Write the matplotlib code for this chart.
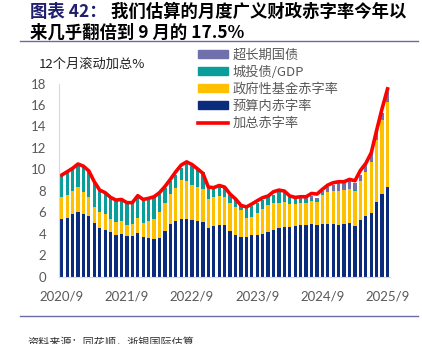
import matplotlib
matplotlib.use("Agg")
import matplotlib.pyplot as plt
from matplotlib.patches import Patch
from matplotlib.lines import Line2D

plt.rcParams['font.family'] = ['Noto Sans CJK SC', 'DejaVu Sans']

# 2020/9 ... 2025/9，共61个月
months = [f"{2020 + (8 + i) // 12}/{(8 + i) % 12 + 1}" for i in range(61)]
tick_labels = ["2020/9", "2021/9", "2022/9", "2023/9", "2024/9", "2025/9"]

# 预算内赤字率
budget = [5.37, 5.5, 5.8, 6.05, 5.85, 5.7, 5.0, 4.55, 4.35, 4.2,
          3.9, 4.0, 3.8, 3.8, 4.05, 3.7, 3.6, 3.5, 3.6, 4.3,
          4.9, 5.2, 5.4, 5.4, 5.3, 5.2, 5.1, 4.57, 4.72, 4.82,
          4.82, 4.25, 3.9, 3.73, 3.7, 3.85, 3.88, 4.0, 4.13, 4.35,
          4.5, 4.66, 4.6, 4.72, 4.81, 4.81, 4.9, 4.81, 4.9, 4.9,
          4.9, 4.81, 4.9, 5.05, 4.73, 5.28, 5.65, 5.96, 6.99, 7.7, 8.39]
# 政府性基金赤字率
fund = [2.03, 2.1, 2.2, 2.35, 2.05, 1.7, 1.5, 1.45, 1.45, 1.2,
        1.2, 1.2, 1.0, 1.15, 1.45, 1.3, 1.6, 1.9, 2.4, 2.55,
        2.8, 3.1, 3.6, 3.55, 3.25, 3.15, 3.05, 2.68, 2.73, 2.73,
        2.63, 2.6, 2.55, 2.52, 1.8, 1.75, 2.08, 2.27, 2.55, 2.48,
        2.33, 2.33, 2.17, 2.05, 2.02, 2.09, 2.18, 2.18, 2.7, 2.95,
        3.05, 3.14, 3.15, 3.1, 3.27, 3.62, 4.13, 4.74, 5.74, 6.9, 7.91]
# 城投债/GDP
lgfv = [2.05, 2.2, 2.1, 2.15, 2.4, 2.45, 2.3, 2.1, 2.0, 2.05,
        2.1, 2.05, 2.1, 1.95, 2.0, 2.2, 2.05, 2.0, 1.75, 1.45,
        1.2, 1.2, 1.15, 1.65, 1.75, 1.65, 1.65, 1.05, 0.75, 0.85,
        0.8, 0.75, 0.75, 0.45, 0.95, 1.0, 0.87, 0.87, 0.77, 0.77,
        1.09, 0.93, 0.68, 0.59, 0.4, 0.3, 0.2, 0.12, 0.08, 0.05,
        0.04, 0.04, 0.04, 0.04, 0.04, 0.04, 0.04, 0.04, 0.04, 0.04, 0.04]
# 超长期国债
ultra = [0] * 44 + [0.1, 0.2, 0.2, 0.25, 0.3, 0.45, 0.6, 0.7, 0.65, 0.7,
                    0.7, 0.55, 0.55, 0.8, 0.6, 0.6, 0.85]
# 加总赤字率
total = [9.47, 9.78, 10.1, 10.5, 10.3, 9.85, 8.85, 8.07, 7.83, 7.39,
         7.14, 7.2, 6.9, 6.9, 7.55, 7.2, 7.3, 7.45, 7.83, 8.4,
         9.07, 9.78, 10.4, 10.7, 10.45, 10.05, 9.63, 8.35, 8.3, 8.5,
         8.35, 7.7, 7.25, 6.65, 6.5, 6.77, 7.08, 7.36, 7.52, 7.92,
         8.07, 7.98, 7.52, 7.39, 7.45, 7.45, 7.76, 7.7, 8.14, 8.54,
         8.76, 8.85, 8.85, 9.07, 8.94, 9.9, 10.56, 11.55, 13.66, 15.68, 17.5]

c_navy = "#0b2c7d"
c_yellow = "#ffc000"
c_teal = "#0a9e9a"
c_purple = "#7070ad"
c_red = "#ff0000"
c_gray = "#595959"

fig = plt.figure(figsize=(4.22, 3.44), dpi=100)
ax = fig.add_axes([0.1398, 0.1956, 0.785, 0.5616])

x = list(range(len(months)))
w = 0.6
b1 = budget
b2 = [a + b for a, b in zip(b1, fund)]
b3 = [a + b for a, b in zip(b2, lgfv)]
ax.bar(x, budget, w, color=c_navy, linewidth=0)
ax.bar(x, fund, w, bottom=b1, color=c_yellow, linewidth=0)
ax.bar(x, lgfv, w, bottom=b2, color=c_teal, linewidth=0)
ax.bar(x, ultra, w, bottom=b3, color=c_purple, linewidth=0)
ax.plot(x, total, color=c_red, linewidth=2.6, solid_joinstyle='round')

ax.set_xlim(-0.5, 60.5)
ax.set_ylim(0, 18)
ax.set_yticks(range(0, 19, 2))
ax.set_xticks([months.index(t) for t in tick_labels])
ax.set_xticklabels(tick_labels)
ax.tick_params(length=0, labelsize=9.5, labelcolor=c_gray)
ax.tick_params(axis='x', pad=10)
ax.tick_params(axis='y', pad=9)
for lab in ax.get_xticklabels() + ax.get_yticklabels():
    lab.set_family('Lato')
for s in ['top', 'right']:
    ax.spines[s].set_visible(False)
for s in ['left', 'bottom']:
    ax.spines[s].set_color('#d9d9d9')
    ax.spines[s].set_linewidth(0.8)

ax.text(-0.06, 1.1, "12个月滚动加总%", transform=ax.transAxes,
        fontsize=9.5, color='#222222', va='center', ha='left')

handles = [Patch(color=c_purple), Patch(color=c_teal), Patch(color=c_yellow),
           Patch(color=c_navy), Line2D([], [], color=c_red, linewidth=2.6)]
labels = ["超长期国债", "城投债/GDP", "政府性基金赤字率", "预算内赤字率", "加总赤字率"]
leg = fig.legend(handles, labels, loc='upper left', bbox_to_anchor=(198 / 422, 1 - 49 / 344),
                 frameon=False, fontsize=9.5, handlelength=2.3, handleheight=0.55,
                 handletextpad=0.35, labelspacing=0.3, borderpad=0, borderaxespad=0)
for t in leg.get_texts():
    t.set_color(c_gray)

# 标题
t1 = fig.text(30 / 422, 1 - 17 / 344, "图表 42：", fontsize=12.5, fontweight='bold',
              color='#1f1f6e', va='baseline', ha='left')
ax.annotate(" 我们估算的月度广义财政赤字率今年以", xy=(1, 0), xycoords=t1,
            fontsize=12.5, fontweight='bold', color='black', va='bottom', ha='left',
            annotation_clip=False)
fig.text(30 / 422, 1 - 38 / 344, "来几乎翻倍到 9 月的 17.5%", fontsize=12.5,
         fontweight='bold', color='black', va='baseline', ha='left')

# 分隔线
fig.add_artist(Line2D([20 / 422, 418 / 422], [1 - 40.7 / 344] * 2, color='#6b6ba8', linewidth=1))
fig.add_artist(Line2D([20 / 422, 418 / 422], [1 - 315.7 / 344] * 2, color='#6b6ba8', linewidth=1))

fig.text(27 / 422, 1 - 346 / 344, "资料来源：同花顺，浙银国际估算", fontsize=8,
         color='#333333', va='baseline', ha='left')

fig.savefig("out.png", dpi=100)
